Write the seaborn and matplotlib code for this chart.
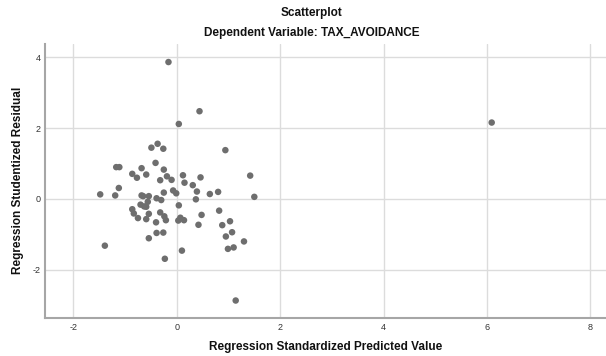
import numpy as np
import pandas as pd
import matplotlib
matplotlib.use("Agg")
import matplotlib.pyplot as plt
import seaborn as sns

# Standardized predicted values (x) and studentized residuals (y)
pred = [-0.16, 0.44, 0.04, -0.49, -0.37, -0.26, 0.94, -0.41,
        -1.17, -1.11, -0.68, -0.25, -0.86, -0.77, -0.59, -0.32,
        -0.19, -0.10, 0.12, 0.15, 0.31, 0.46, 1.42, -1.12,
        -1.48, -1.19, -0.68, -0.65, -0.54, -0.39, -0.30, -0.25,
        -0.07, -0.01, 0.39, 0.37, 0.64, 0.80, 1.50, -0.56,
        -0.70, -0.63, -0.59, -0.86, -0.83, -0.75, -0.59, -0.54,
        -0.32, -0.24, -0.21, -0.40, 0.04, 0.03, 0.07, 0.14,
        0.48, 0.42, 0.82, 0.88, 1.03, 1.07, 0.95, 1.30,
        1.10, 0.99, -0.39, -0.26, -0.54, -1.39, 0.10, -0.23,
        1.14, 6.09]
resid = [3.87, 2.48, 2.12, 1.45, 1.56, 1.42, 1.38, 1.02,
         0.90, 0.90, 0.87, 0.83, 0.71, 0.60, 0.69, 0.53,
         0.64, 0.54, 0.67, 0.46, 0.39, 0.61, 0.66, 0.31,
         0.13, 0.10, 0.10, 0.08, 0.08, 0.02, -0.03, 0.18,
         0.24, 0.16, 0.21, -0.01, 0.14, 0.20, 0.06, -0.08,
         -0.16, -0.21, -0.22, -0.29, -0.41, -0.54, -0.57, -0.42,
         -0.38, -0.49, -0.60, -0.66, -0.18, -0.61, -0.53, -0.60,
         -0.45, -0.73, -0.33, -0.74, -0.63, -0.94, -1.06, -1.20,
         -1.37, -1.41, -0.96, -0.95, -1.11, -1.32, -1.46, -1.69,
         -2.87, 2.16]

x_ticks = [-2, 0, 2, 4, 6, 8]
y_ticks = [-2, 0, 2, 4]

df = pd.DataFrame({"pred": pred, "resid": resid})

sns.set_theme(style="white")
plt.rcParams["font.family"] = ["Liberation Sans", "DejaVu Sans"]
plt.rcParams["axes.unicode_minus"] = False

W, H = 606, 356
fig = plt.figure(figsize=(W / 100, H / 100), dpi=100)
left, right, top, bottom = 44.5, 606, 44, 317.5
ax = fig.add_axes([left / W, 1 - bottom / H, (right - left) / W, (bottom - top) / H])

sns.scatterplot(data=df, x="pred", y="resid", ax=ax, color="#6e6e6e",
                s=22, edgecolor="none", zorder=3)

ax.set_xlim(-2.557, 8.30)
ax.set_ylim(-3.35, 4.38)
ax.set_xticks(x_ticks)
ax.set_yticks(y_ticks)
ax.grid(True, color="#dcdcdc", linewidth=1.0)
ax.set_axisbelow(True)

for side in ["top", "right"]:
    ax.spines[side].set_visible(False)
for side in ["left", "bottom"]:
    ax.spines[side].set_color("#a6a6a6")
    ax.spines[side].set_linewidth(1.5)

ax.tick_params(axis="both", length=0, labelsize=6.5, labelcolor="#333333")
ax.tick_params(axis="x", pad=4)
ax.tick_params(axis="y", pad=3)

ax.set_xlabel("Regression Standardized Predicted Value", fontsize=8.5,
              fontweight="bold", color="#111111")
ax.set_ylabel("Regression Studentized Residual", fontsize=8.5,
              fontweight="bold", color="#111111")
ax.xaxis.set_label_coords(0.5, -0.085)
ax.yaxis.set_label_coords(-0.037, 0.5)

fig.text(311.7 / W, 1 - 13.3 / H, "Scatterplot", ha="center", va="center",
         fontsize=8.5, fontweight="bold", color="#111111")
fig.text(311.7 / W, 1 - 33.3 / H, "Dependent Variable: TAX_AVOIDANCE",
         ha="center", va="center", fontsize=8.5, fontweight="bold", color="#111111")

fig.savefig("out.png", dpi=100)
